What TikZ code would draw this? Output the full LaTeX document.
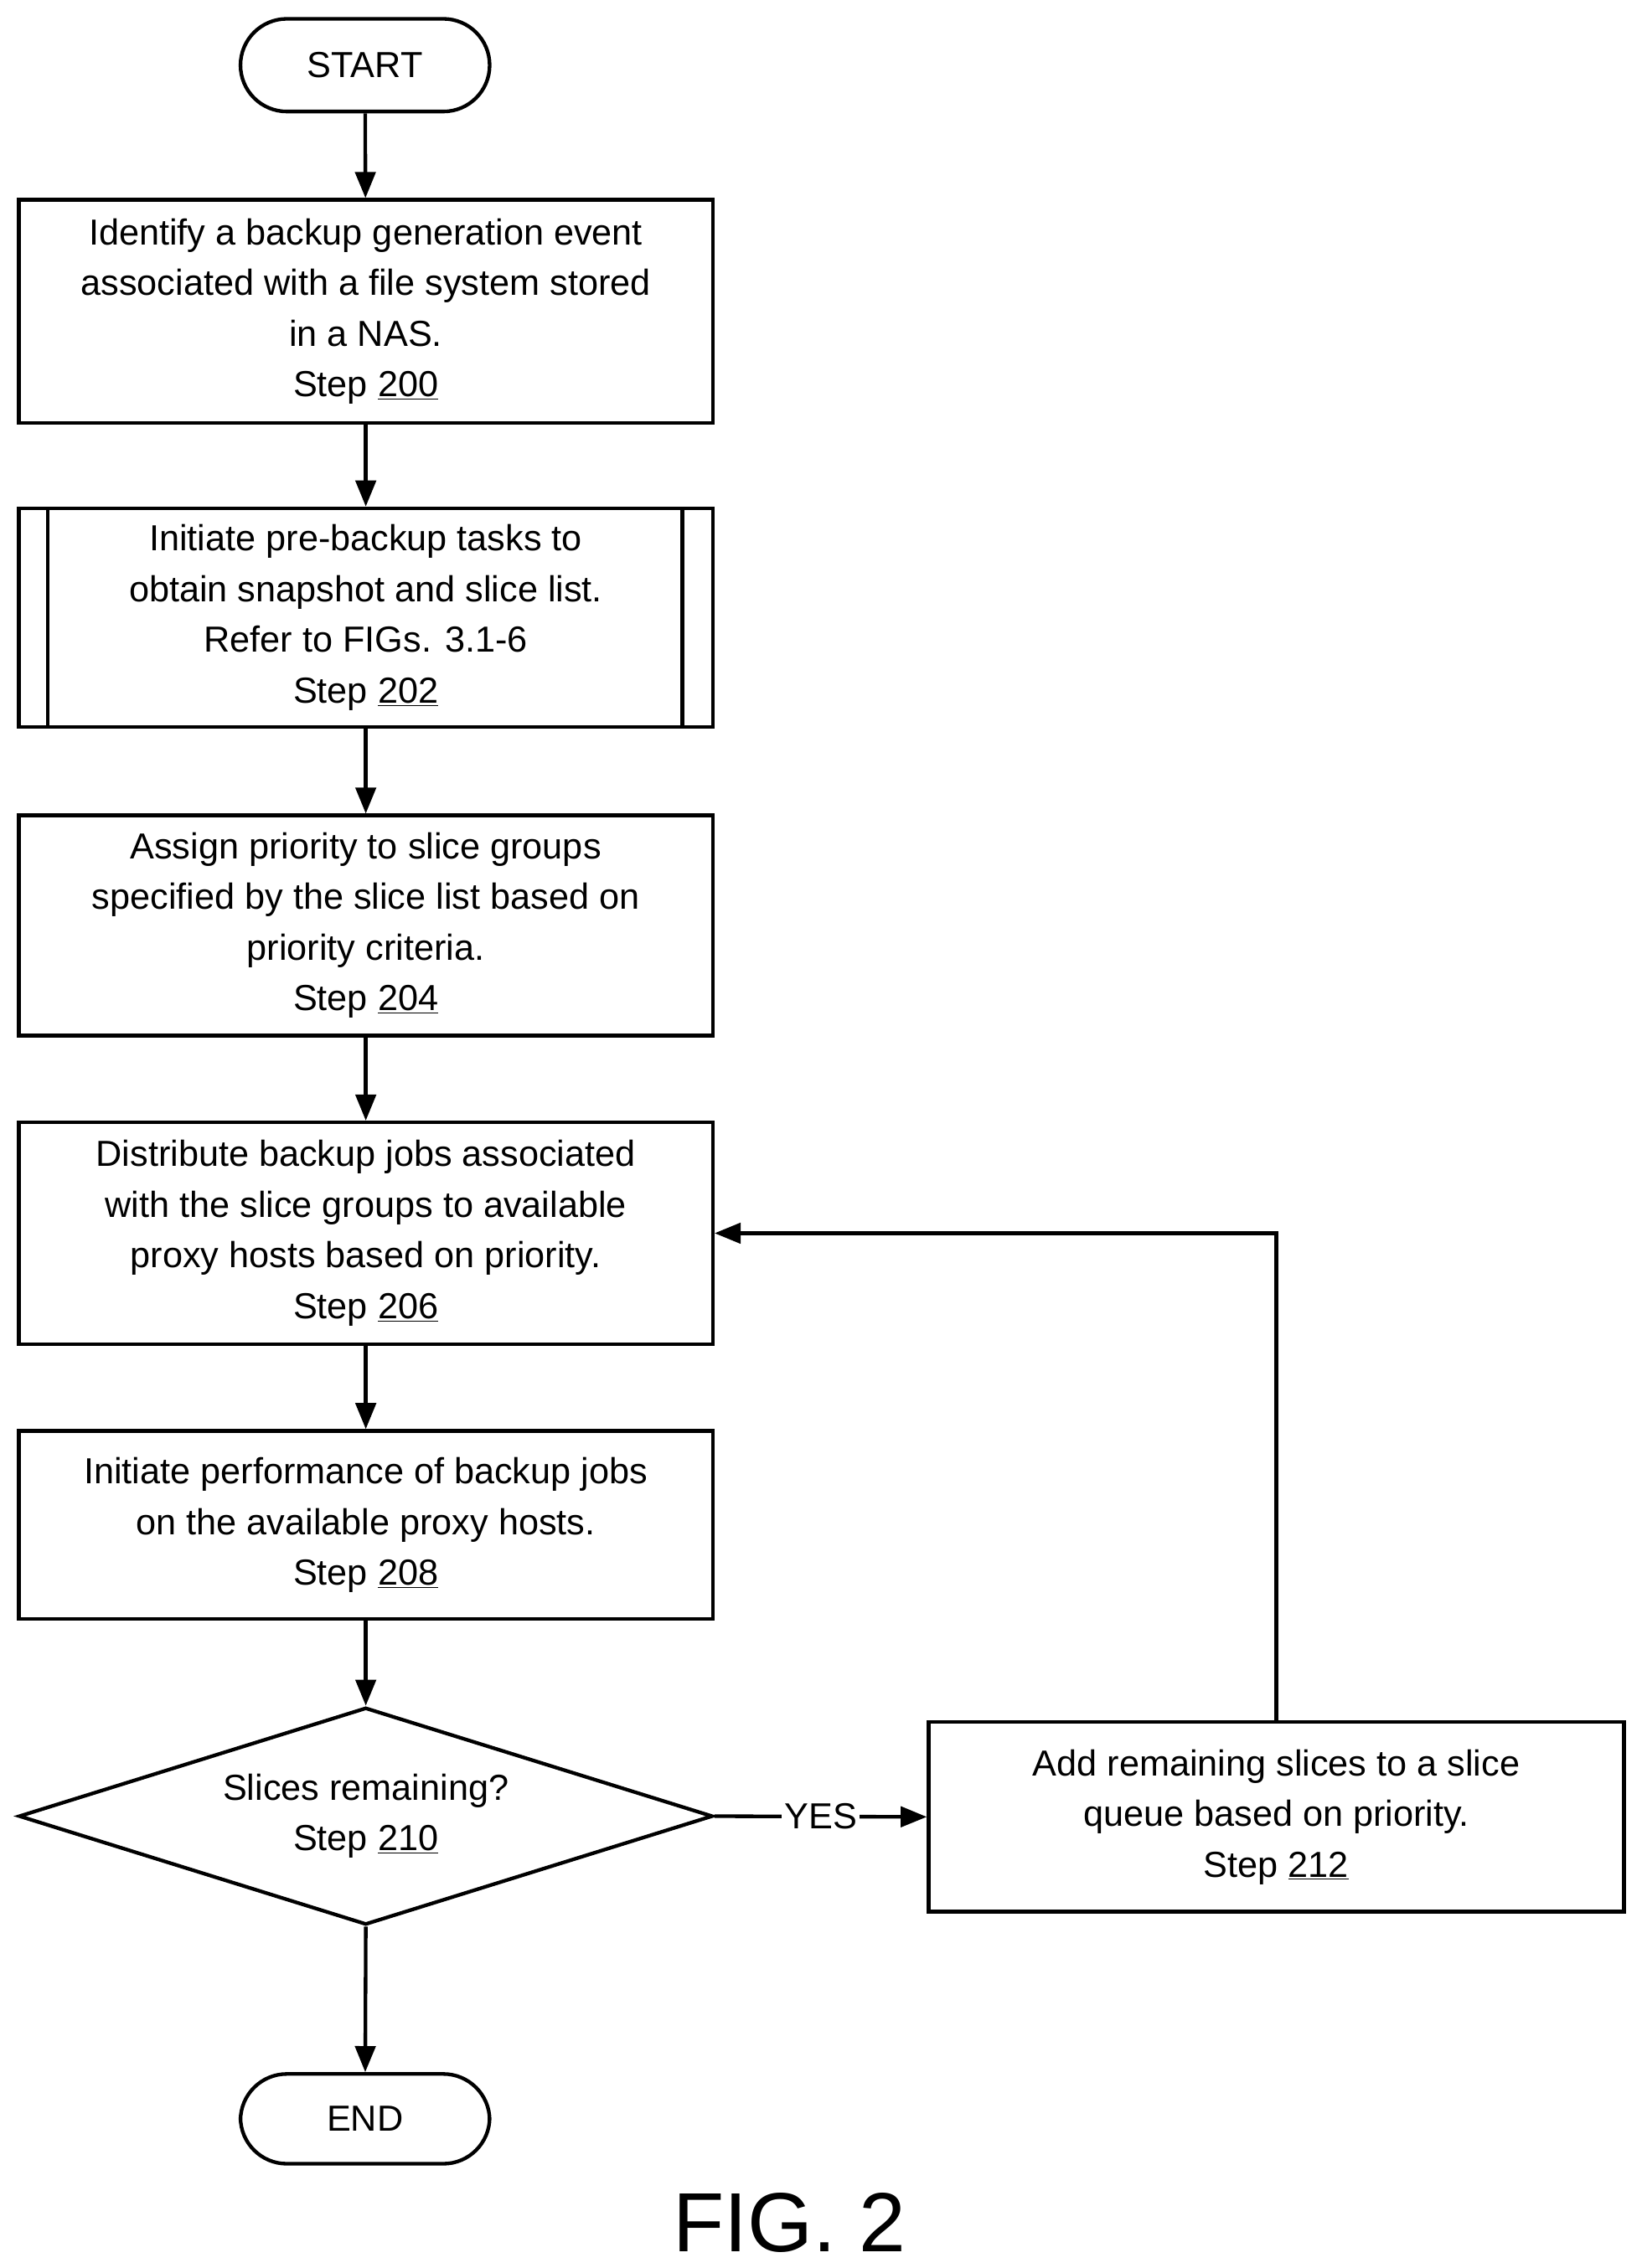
\documentclass[tikz,border=0pt]{standalone}
\usepackage{fontspec}
\setmainfont{Liberation Sans}
\usetikzlibrary{shapes.geometric,arrows.meta}
\begin{document}
\begin{tikzpicture}[x=1pt,y=-1pt,
 every node/.style={font=\fontsize{25}{35}\selectfont,align=center},
 box/.style={draw,line width=2.5pt,minimum width=479pt,inner sep=0pt},
 term/.style={draw,line width=2.5pt,rounded corners=32pt,minimum width=172pt,minimum height=64pt},
 ar/.style={line width=2.5pt,-{Triangle[length=18pt,width=14pt]}}]
\useasboundingbox (0,0) rectangle (1133,1566);
\node[term] (start) at (252,45) {START};
\node[box,minimum height=154pt] (s200) at (252.5,215) {Identify a backup generation event\\associated with a file system stored\\in a NAS.\\Step \underline{200}};
\node[box,minimum height=151pt] (s202) at (252.5,426.5) {Initiate pre-backup tasks to\\obtain snapshot and slice list.\\Refer to FIGs. 3.1-6\\Step \underline{202}};
\draw[line width=2.5pt] (33,351) -- (33,502) (471,351) -- (471,502);
\node[box,minimum height=152pt] (s204) at (252.5,639) {Assign priority to slice groups\\specified by the slice list based on\\priority criteria.\\Step \underline{204}};
\node[box,minimum height=153pt] (s206) at (252.5,851.5) {Distribute backup jobs associated\\with the slice groups to available\\proxy hosts based on priority.\\Step \underline{206}};
\node[box,minimum height=130pt] (s208) at (252.5,1053) {Initiate performance of backup jobs\\on the available proxy hosts.\\Step \underline{208}};
\node[draw,line width=2.5pt,diamond,aspect=3.2,minimum width=479pt,minimum height=150pt,inner sep=0pt] (s210) at (252.5,1254) {};
\node at (252.5,1254) {Slices remaining?\\Step \underline{210}};
\node[box,minimum height=131pt,minimum width=480pt] (s212) at (881,1254.5) {Add remaining slices to a slice\\queue based on priority.\\Step \underline{212}};
\node[term,minimum height=62pt] (end) at (252,1463) {END};
\node[font=\fontsize{58}{60}\selectfont] (fig) at (545,1535) {FIG. 2};
\draw[ar] (start) -- (s200);
\draw[ar] (s200) -- (s202);
\draw[ar] (s202) -- (s204);
\draw[ar] (s204) -- (s206);
\draw[ar] (s206) -- (s208);
\draw[ar] (s208) -- (s210.north);
\draw[ar] (s210.south) -- (end);
\draw[ar] (s210.east) -- node[fill=white,inner sep=2pt] {YES} (s212.west);
\draw[ar] (s212.north) |- (s206.east);
\end{tikzpicture}
\end{document}
